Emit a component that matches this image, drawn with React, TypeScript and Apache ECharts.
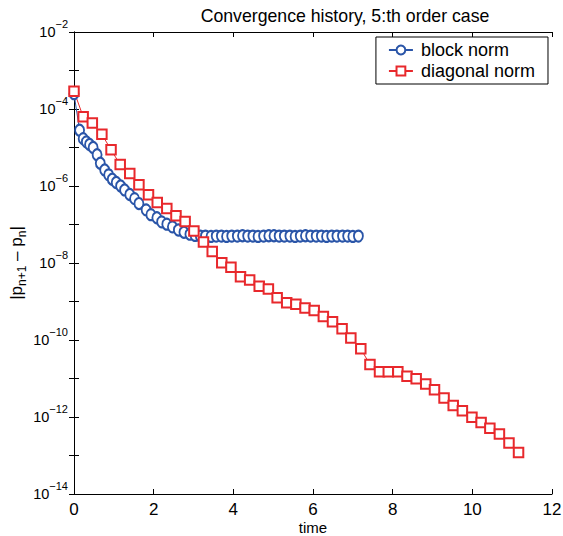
import React, { useEffect, useRef } from "react";
import * as echarts from "echarts";

const xTicks = [0, 2, 4, 6, 8, 10, 12];

const blockTime = [
  0, 0.14, 0.23, 0.31, 0.39, 0.48, 0.58, 0.66, 0.77, 0.87, 0.96, 1.06, 1.17, 1.27, 1.4,
  1.52, 1.63, 1.81, 1.93, 2.08, 2.2, 2.33, 2.47, 2.62, 2.76, 2.91,
  3.04, 3.17, 3.3, 3.44, 3.57, 3.7, 3.83, 3.96, 4.1, 4.23, 4.36, 4.49, 4.62, 4.76, 4.89,
  5.02, 5.15, 5.28, 5.42, 5.55, 5.68, 5.81, 5.94, 6.08, 6.21, 6.34, 6.47, 6.6, 6.74,
  6.87, 7.0, 7.14,
];
const blockNorm = [
  2.5e-4, 2.8e-5, 1.7e-5, 1.4e-5, 1.2e-5, 1.0e-5, 6.5e-6, 3.9e-6, 2.6e-6, 1.95e-6, 1.5e-6,
  1.23e-6, 1.0e-6, 7.9e-7, 6.0e-7, 4.7e-7, 3.5e-7, 2.4e-7, 1.8e-7, 1.5e-7, 1.17e-7,
  1.02e-7, 8.7e-8, 7.2e-8, 6.3e-8, 5.6e-8,
  5.2e-8, 5.0e-8, 5.0e-8, 4.9e-8, 5.0e-8, 5.0e-8, 4.9e-8, 5.0e-8, 5.0e-8, 5.1e-8, 5.0e-8,
  5.0e-8, 4.9e-8, 5.0e-8, 5.1e-8, 5.1e-8, 5.0e-8, 5.0e-8, 5.0e-8, 4.9e-8, 5.0e-8, 5.1e-8,
  5.0e-8, 5.0e-8, 5.0e-8, 4.9e-8, 5.0e-8, 5.0e-8, 5.0e-8, 5.0e-8, 4.9e-8, 5.0e-8,
];

const diagTime = [
  0, 0.23, 0.46, 0.7, 0.93, 1.16, 1.4, 1.63, 1.87, 2.09, 2.33, 2.56, 2.79, 3.01, 3.25,
  3.47, 3.71, 3.94, 4.18, 4.41, 4.65, 4.88, 5.1, 5.34, 5.57, 5.8, 6.03, 6.26, 6.49, 6.73,
  6.95, 7.2, 7.43, 7.67, 7.89, 8.13, 8.36, 8.59, 8.83, 9.05, 9.29, 9.52, 9.75, 9.99,
  10.22, 10.44, 10.68, 10.92, 11.16,
];
const diagNorm = [
  2.9e-4, 6.3e-5, 4.3e-5, 2.2e-5, 8.7e-6, 3.6e-6, 2.1e-6, 1.07e-6, 5.9e-7, 3.7e-7, 2.6e-7,
  1.7e-7, 1.2e-7, 6.8e-8, 3.5e-8, 2.0e-8, 1.02e-8, 7.8e-9, 4.4e-9, 3.6e-9, 2.5e-9, 2.1e-9,
  1.26e-9, 9.3e-10, 8.5e-10, 6.8e-10, 5.8e-10, 4.1e-10, 3.0e-10, 1.95e-10, 1.12e-10,
  5.9e-11, 2.3e-11, 1.5e-11, 1.5e-11, 1.5e-11, 1.15e-11, 9.8e-12, 7.2e-12, 5.1e-12,
  3.1e-12, 2.0e-12, 1.45e-12, 9.8e-13, 7.2e-13, 5.1e-13, 3.6e-13, 2.1e-13, 1.2e-13,
];

const BLUE = "#2a55a8";
const RED = "#e8282c";
const FONT = "Liberation Sans";

export default function App() {
  const ref = useRef<HTMLDivElement>(null);
  useEffect(() => {
    if (!ref.current) return;
    const chart = echarts.init(ref.current, null, { renderer: "svg" });
    const yLabel = (v: number) => {
      const e = Math.round(Math.log10(v));
      if (e % 2 !== 0) return "";
      return `{b|10}{s|${e < 0 ? "\u2212" : ""}${Math.abs(e)}}`;
    };
    const common = {
      axisLine: { show: true, lineStyle: { color: "#000", width: 1 } },
      axisTick: { show: true, inside: true, length: 5, lineStyle: { color: "#000" } },
      splitLine: { show: false },
    };
    chart.setOption({
      animation: false,
      backgroundColor: "#fff",
      textStyle: { fontFamily: FONT },
      title: {
        text: "Convergence history, 5:th order case",
        left: 340,
        top: 2,
        textAlign: "center",
        textStyle: { fontFamily: FONT, fontSize: 17.7, fontWeight: "normal", color: "#000" },
      },
      legend: {
        orient: "vertical",
        right: 15,
        top: 37,
        backgroundColor: "#fff",
        borderColor: "#000",
        borderWidth: 1,
        padding: [4, 13, 4, 12],
        itemGap: 3,
        itemWidth: 24,
        itemHeight: 11,
        textStyle: { fontFamily: FONT, fontSize: 18, color: "#000", padding: [0, 0, 0, 3] },
        data: ["block norm", "diagonal norm"],
      },
      grid: {
        left: 74,
        right: 11,
        top: 32,
        bottom: 42,
        containLabel: false,
        outerBoundsMode: "none",
      },
      xAxis: [
        {
          type: "value",
          min: xTicks[0],
          max: xTicks[xTicks.length - 1],
          interval: 2,
          name: "time",
          nameLocation: "middle",
          nameGap: 27.5,
          nameMoveOverlap: false,
          nameTextStyle: { fontFamily: FONT, fontSize: 15, lineHeight: 12, color: "#000" },
          axisLabel: { fontFamily: FONT, fontSize: 17, lineHeight: 12, color: "#000", margin: 9 },
          ...common,
        },
        {
          type: "value",
          position: "top",
          min: xTicks[0],
          max: xTicks[xTicks.length - 1],
          interval: 2,
          axisLabel: { show: false },
          ...common,
        },
      ],
      yAxis: [
        {
          type: "log",
          logBase: 10,
          min: 1e-14,
          max: 1e-2,
          interval: 1,
          splitNumber: 12,
          name: "{p||p}{sub|n+1}{p| \u2013 p}{sub|n}{p||}",
          nameLocation: "middle",
          nameRotate: 90,
          nameGap: 46,
          nameMoveOverlap: false,
          nameTextStyle: {
            fontFamily: FONT,
            color: "#000",
            rich: {
              p: { fontFamily: FONT, fontSize: 17, lineHeight: 24, verticalAlign: "middle", color: "#000" },
              sub: { fontFamily: FONT, fontSize: 12, lineHeight: 12, verticalAlign: "bottom", color: "#000" },
            },
          },
          axisLabel: {
            formatter: yLabel,
            margin: 6,
            color: "#000",
            rich: {
              b: { fontFamily: FONT, fontSize: 14.5, lineHeight: 28, verticalAlign: "middle", color: "#000" },
              s: { fontFamily: FONT, fontSize: 11, lineHeight: 11, verticalAlign: "top", color: "#000" },
            },
          },
          ...common,
        },
        {
          type: "log",
          logBase: 10,
          position: "right",
          min: 1e-14,
          max: 1e-2,
          interval: 1,
          splitNumber: 12,
          axisLabel: { show: false },
          ...common,
        },
      ],
      series: [
        {
          name: "block norm",
          type: "line",
          data: blockTime.map((t, i) => [t, blockNorm[i]]),
          symbol: "emptyCircle",
          symbolSize: [9, 11],
          color: BLUE,
          lineStyle: { color: BLUE, width: 1 },
          itemStyle: { color: BLUE, borderColor: BLUE, borderWidth: 1.2 },
          emphasis: { disabled: true },
        },
        {
          name: "diagonal norm",
          type: "line",
          data: diagTime.map((t, i) => [t, diagNorm[i]]),
          symbol: "emptyRect",
          symbolSize: 9.5,
          color: RED,
          lineStyle: { color: RED, width: 1 },
          itemStyle: { color: RED, borderColor: RED, borderWidth: 1.2 },
          emphasis: { disabled: true },
        },
      ],
    });
    return () => chart.dispose();
  }, []);
  return (
    <div
      ref={ref}
      style={{ position: "fixed", left: 0, top: 0, width: 563, height: 536, background: "#fff" }}
    />
  );
}
